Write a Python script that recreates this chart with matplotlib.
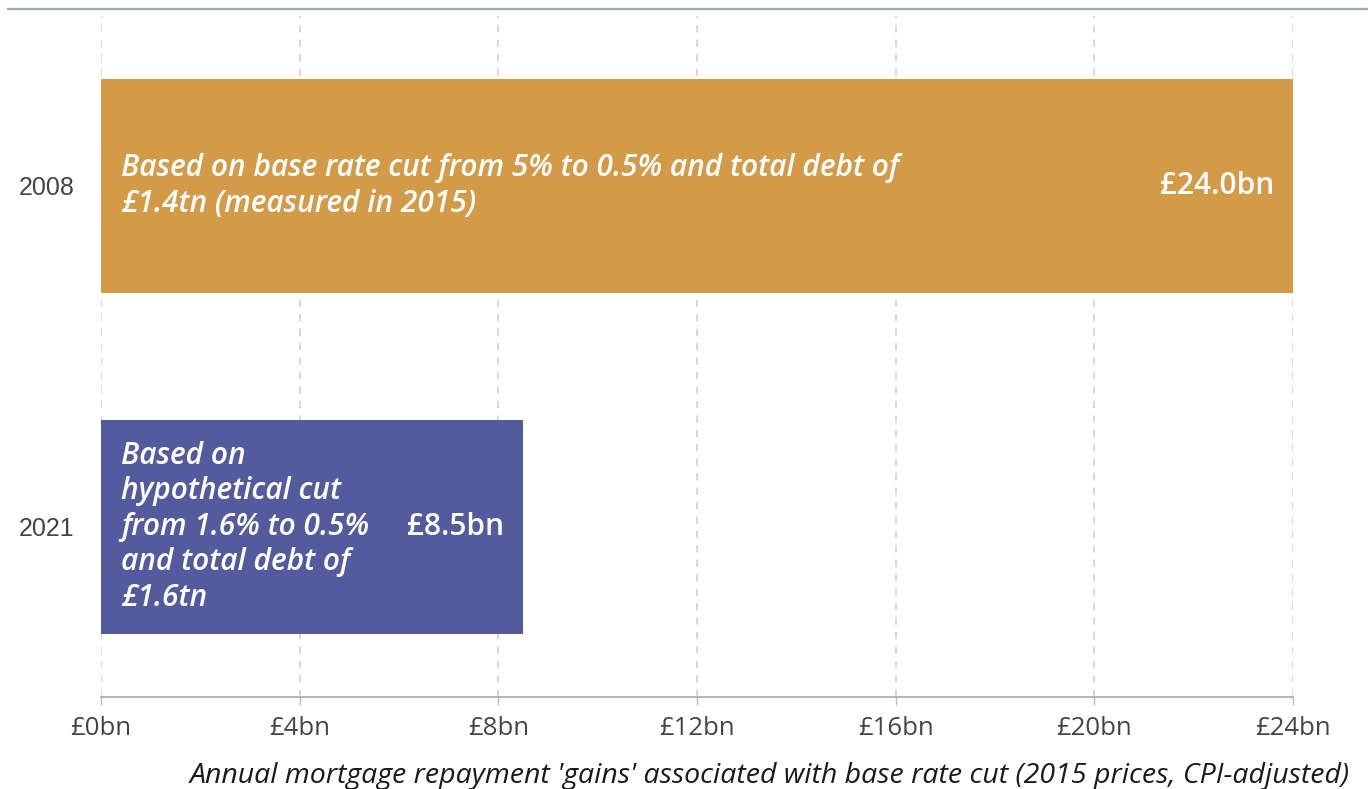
import matplotlib
matplotlib.use("Agg")
import matplotlib.pyplot as plt
from matplotlib.lines import Line2D

# Data
years = ["2008", "2021"]
gains_bn = [24.0, 8.5]
notes = [
    "Based on base rate cut from 5% to 0.5% and total debt of\n£1.4tn (measured in 2015)",
    "Based on\nhypothetical cut\nfrom 1.6% to 0.5%\nand total debt of\n£1.6tn",
]
bar_colors = ["#D39B48", "#545A9E"]
x_ticks = [0, 4, 8, 12, 16, 20, 24]
x_tick_labels = ["£0bn", "£4bn", "£8bn", "£12bn", "£16bn", "£20bn", "£24bn"]
x_label = "Annual mortgage repayment 'gains' associated with base rate cut (2015 prices, CPI-adjusted)"

plt.rcParams["font.family"] = ["Open Sans", "DejaVu Sans"]

W, H = 1368, 789
fig = plt.figure(figsize=(W / 100, H / 100), dpi=100)
ax = fig.add_axes([101 / W, 1 - 697 / H, (1293 - 101) / W, (697 - 15.5) / H])

positions = list(range(len(years)))
ax.barh(positions, gains_bn, height=0.628, color=bar_colors, zorder=2)

ax.set_ylim(len(years) - 0.5, -0.5)
ax.set_xlim(0, 24)

for pos, val, note in zip(positions, gains_bn, notes):
    ax.text(0.4, pos, note, color="white", fontsize=21.5, fontstyle="italic",
            fontweight="semibold", va="center", ha="left", linespacing=1.24, zorder=3)
    ax.text(val - 0.38, pos, f"£{val:.1f}bn", color="white", fontsize=21.5,
            fontweight="semibold", va="center", ha="right", zorder=3)

ax.set_xticks(x_ticks)
ax.set_xticklabels(x_tick_labels)
ax.set_yticks(positions)
ax.set_yticklabels(years, fontfamily="Liberation Sans")

ax.tick_params(axis="x", colors="#bbbbbb", length=6, width=1, labelsize=18.5,
               labelcolor="#444444", pad=8)
ax.tick_params(axis="y", length=0, labelsize=18, labelcolor="#444444", pad=19)

ax.grid(axis="x", color="#d4d4d4", linestyle=(0, (4, 4)), linewidth=1.3, zorder=1)
ax.set_axisbelow(True)

for side in ["left", "right", "top"]:
    ax.spines[side].set_visible(False)
ax.spines["bottom"].set_color("#a8a8a8")
ax.spines["bottom"].set_linewidth(1.2)

fig.text(1350 / W, 1 - 783 / H, x_label, ha="right", va="baseline",
         fontsize=20.5, fontstyle="italic", color="#1a1a1a")

# Rule across the top of the figure
fig.add_artist(Line2D([8 / W, 1.0], [1 - 9 / H, 1 - 9 / H],
                      color="#9DB2B0", linewidth=1.6, transform=fig.transFigure))

fig.savefig("out.png", dpi=100)
